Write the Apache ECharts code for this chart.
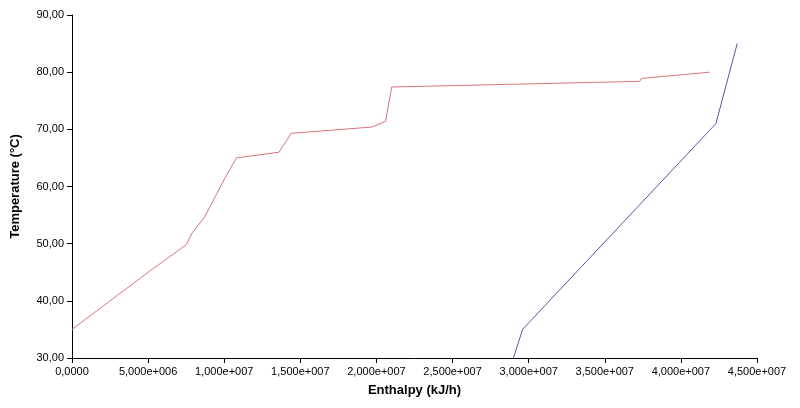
<!DOCTYPE html><html><head><meta charset="utf-8"><script src="https://cdn.jsdelivr.net/npm/echarts@6/dist/echarts.min.js"></script></head><body style="margin:0"><div id="c" style="width:800px;height:408px"></div><script>
const hotX=[0,5.0e6,7.5e6,7.9e6,8.7e6,10.05e6,10.8e6,13.6e6,14.4e6,19.7e6,20.6e6,21.0e6,37.3e6,37.4e6,41.9e6];
const hotT=[35,45,49.8,51.9,54.6,61.5,65,66,69.3,70.4,71.4,77.4,78.4,78.9,80];
const coldX=[29.0e6,29.6e6,42.3e6,43.7e6];
const coldT=[30,35,71,85];
function fx(v){if(v===0)return '0,0000';let s=v.toExponential(3).replace('.',',');let m=s.match(/e([+-])(\d+)/);return s.replace(/e([+-])(\d+)/,'e'+m[1]+m[2].padStart(3,'0'));}
const c=echarts.init(document.getElementById('c'));
c.setOption({animation:false,grid:{left:72,right:43,top:15,bottom:50},
xAxis:{type:'value',min:0,max:4.5e7,interval:5e6,name:'Enthalpy (kJ/h)',nameLocation:'middle',nameGap:26,nameTextStyle:{fontWeight:'bold',fontSize:13,color:'#000'},axisLine:{lineStyle:{color:'#000'}},axisTick:{lineStyle:{color:'#000'}},splitLine:{show:false},axisLabel:{formatter:fx,color:'#000',fontSize:11}},
yAxis:{type:'value',min:30,max:90,interval:10,name:'Temperature (°C)',nameLocation:'middle',nameGap:50,nameTextStyle:{fontWeight:'bold',fontSize:13,color:'#000'},axisLine:{show:true,lineStyle:{color:'#000'}},axisTick:{show:true,lineStyle:{color:'#000'}},splitLine:{show:false},axisLabel:{formatter:v=>v.toFixed(2).replace('.',','),color:'#000',fontSize:11}},
series:[{type:'line',symbol:'none',data:hotX.map((x,i)=>[x,hotT[i]]),lineStyle:{color:'#d9737a',width:1}},
{type:'line',symbol:'none',data:coldX.map((x,i)=>[x,coldT[i]]),lineStyle:{color:'#5555a8',width:1}}]});
</script></body></html>
